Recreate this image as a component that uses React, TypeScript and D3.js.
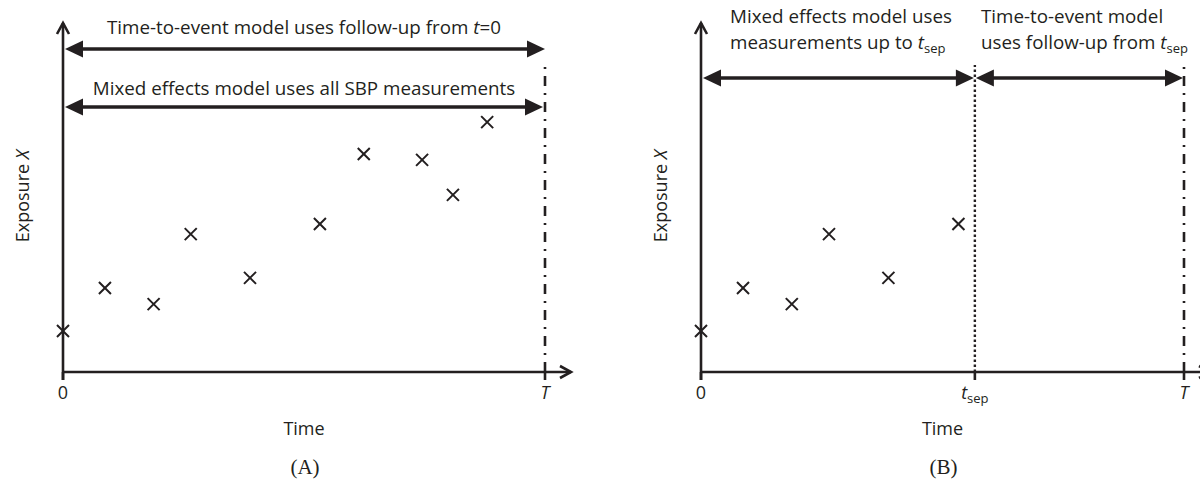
import React from 'react';
import * as d3 from 'd3';

// time axis runs 0..T, t_sep splits the follow-up in panel B
const T_END = 10;
const T_SEP = 5.67;

// SBP measurements (time, exposure X)
const measurementTimes = [0, 0.87, 1.88, 2.65, 3.88, 5.33, 6.24, 7.45, 8.09, 8.8];
const exposureValues = [1.17, 2.4, 1.94, 3.94, 2.69, 4.23, 6.23, 6.06, 5.06, 7.14];

const ticksA = [0, T_END];
const tickLabelsA = ['0', 'T'];
const ticksB = [0, T_SEP, T_END];
const tickLabelsB = ['0', 't_sep', 'T'];

const INK = '#231f20';
const FONT = '"Open Sans", sans-serif';
const NOTE = 18.8; // annotation font size
const W = 1200;
const H = 479;

const yScale = d3.scaleLinear().domain([0, 10]).range([372, 22]);
const crossPath = d3.symbol().type(d3.symbolX).size(96)() as string;

const DoubleArrow = ({ x1, x2, y }: { x1: number; x2: number; y: number }) => {
  const len = 18;
  const half = 8.5;
  return (
    <g fill={INK}>
      <line x1={x1 + len - 1} x2={x2 - len + 1} y1={y} y2={y} stroke={INK} strokeWidth={3.6} />
      <path d={`M${x1},${y}L${x1 + len},${y - half}L${x1 + len},${y + half}Z`} />
      <path d={`M${x2},${y}L${x2 - len},${y - half}L${x2 - len},${y + half}Z`} />
    </g>
  );
};

const Label = ({ text, x, y, size = 18 }: { text: string; x: number; y: number; size?: number }) => {
  if (text === 'T') {
    return <text x={x} y={y} textAnchor="middle" fontStyle="italic" fontSize={size}>T</text>;
  }
  if (text === 't_sep') {
    return (
      <text x={x} y={y} textAnchor="middle" fontSize={size}>
        <tspan fontStyle="italic">t</tspan>
        <tspan fontSize={13} dy={4}>sep</tspan>
      </text>
    );
  }
  return <text x={x} y={y} textAnchor="middle" fontSize={size}>{text}</text>;
};

const Panel = ({
  x0, x1, ticks, tickLabels, nPoints, caption, children,
}: {
  x0: number; x1: number; ticks: number[]; tickLabels: string[]; nPoints: number; caption: string;
  children: (x: d3.ScaleLinear<number, number>) => React.ReactNode;
}) => {
  const x = d3.scaleLinear().domain([0, T_END]).range([x0, x1]);
  const yb = yScale(0);
  const axisEnd = x(T_END) + 26;
  const pts = measurementTimes.slice(0, nPoints).map((t, i) => [x(t), yScale(exposureValues[i])]);
  const mid = (x(0) + x(T_END)) / 2;
  return (
    <g>
      {/* axes */}
      <g stroke={INK} strokeWidth={2.6} fill="none">
        <line x1={x(0)} x2={x(0)} y1={yb + 8} y2={yScale(10) + 1} />
        <path d={`M${x(0) - 6},${yScale(10) + 12}L${x(0)},${yScale(10) + 1}L${x(0) + 6},${yScale(10) + 12}`} />
        <line x1={x(0)} x2={axisEnd} y1={yb} y2={yb} />
        <path d={`M${axisEnd - 11},${yb - 6}L${axisEnd},${yb}L${axisEnd - 11},${yb + 6}`} />
        {ticks.map((t) => (
          <line key={t} x1={x(t)} x2={x(t)} y1={yb} y2={yb + 8} />
        ))}
      </g>
      {/* end of follow-up */}
      <line x1={x(T_END)} x2={x(T_END)} y1={yb} y2={65} stroke={INK} strokeWidth={2.6} strokeDasharray="10,7,2,7" />
      {children(x)}
      {/* measurements */}
      {pts.map(([px, py], i) => (
        <path key={i} d={crossPath} transform={`translate(${px},${py})`} stroke={INK} strokeWidth={2} fill="none" />
      ))}
      <g fill={INK} fontFamily={FONT}>
        {ticks.map((t, i) => (
          <Label key={t} text={tickLabels[i]} x={x(t)} y={399} />
        ))}
        <text x={mid} y={435} textAnchor="middle" fontSize={18}>Time</text>
        <text transform={`translate(${x(0) - 34},196) rotate(-90)`} textAnchor="middle" fontSize={18}>
          Exposure <tspan fontStyle="italic">X</tspan>
        </text>
        <text x={mid + 1} y={474} textAnchor="middle" fontSize={21} fontFamily='"Liberation Serif", serif'>{caption}</text>
      </g>
    </g>
  );
};

export default function App() {
  return (
    <svg width={W} height={H} style={{ position: 'absolute', left: 0, top: 0, background: '#fff' }}>
      <Panel x0={63} x1={545} ticks={ticksA} tickLabels={tickLabelsA} nPoints={measurementTimes.length} caption="(A)">
        {(x) => (
          <g>
            <DoubleArrow x1={x(0) + 2} x2={x(T_END)} y={49} />
            <DoubleArrow x1={x(0) + 2} x2={x(T_END) - 2} y={107} />
            <g fill={INK} fontFamily={FONT} fontSize={NOTE} textAnchor="middle">
              <text x={(x(0) + x(T_END)) / 2} y={34}>
                Time-to-event model uses follow-up from <tspan fontStyle="italic">t</tspan>=0
              </text>
              <text x={(x(0) + x(T_END)) / 2} y={95}>Mixed effects model uses all SBP measurements</text>
            </g>
          </g>
        )}
      </Panel>
      <Panel x0={701} x1={1184} ticks={ticksB} tickLabels={tickLabelsB}
        nPoints={measurementTimes.filter((t) => t < T_SEP).length} caption="(B)">
        {(x) => (
          <g>
            <line x1={x(T_SEP)} x2={x(T_SEP)} y1={yScale(0)} y2={65} stroke={INK} strokeWidth={2.4} strokeDasharray="2.5,2.5" />
            <DoubleArrow x1={x(0) + 2} x2={x(T_SEP) - 1} y={78} />
            <DoubleArrow x1={x(T_SEP) + 1} x2={x(T_END) - 1} y={78} />
            <g fill={INK} fontFamily={FONT} fontSize={NOTE}>
              <text x={730} y={22.5}>Mixed effects model uses</text>
              <text x={730} y={48.5}>
                measurements up to <tspan fontStyle="italic">t</tspan><tspan fontSize={13} dy={4}>sep</tspan>
              </text>
              <text x={981} y={22.5}>Time-to-event model</text>
              <text x={981} y={48.5}>
                uses follow-up from <tspan fontStyle="italic">t</tspan><tspan fontSize={13} dy={4}>sep</tspan>
              </text>
            </g>
          </g>
        )}
      </Panel>
    </svg>
  );
}
